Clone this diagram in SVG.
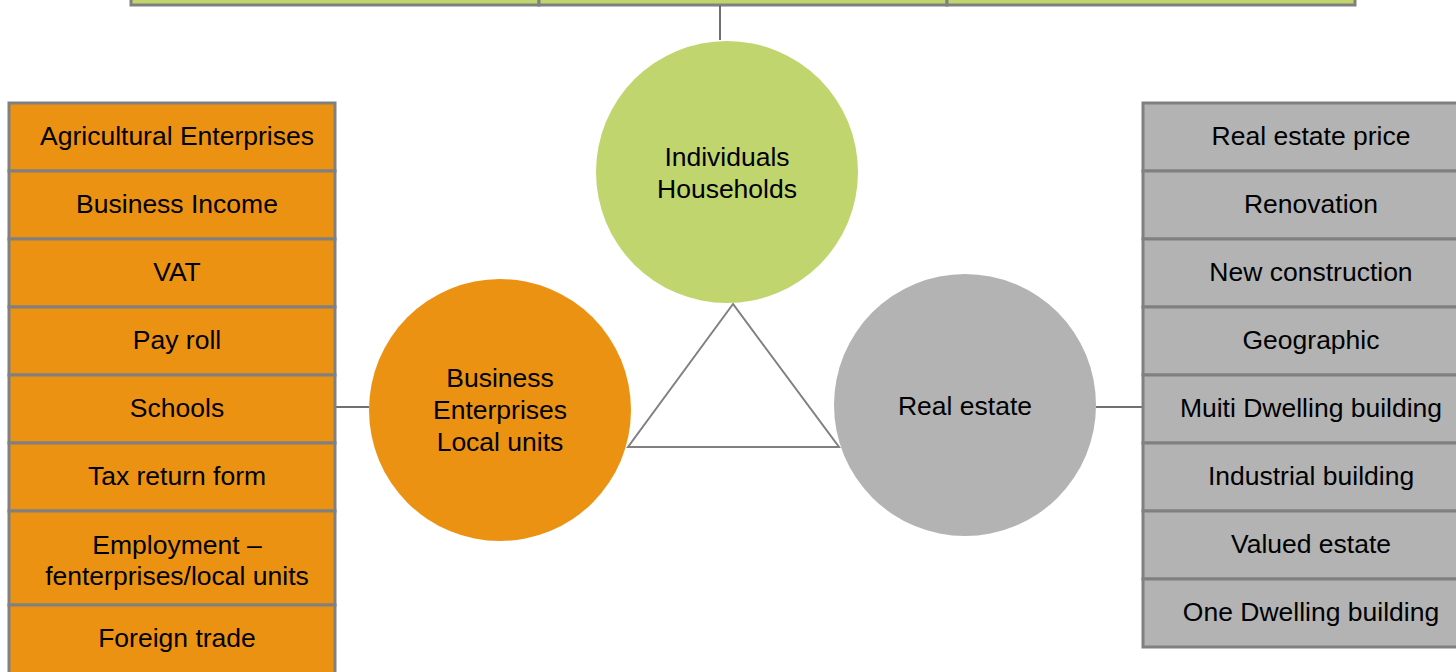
<svg xmlns="http://www.w3.org/2000/svg" width="1456" height="672" viewBox="0 0 1456 672">
<style>
text{font-family:"Liberation Sans",Arial,sans-serif;font-size:26.5px;fill:#000;text-anchor:middle;dominant-baseline:central}
.box{stroke:#808080;stroke-width:3}
.or{fill:#EC9212}
.gr{fill:#B3B3B3}
.gn{fill:#C0D56E}
.ln{stroke:#404040;stroke-width:1.5;fill:none}
</style>
<rect width="1456" height="672" fill="#fff"/>
<g id="top">
<rect class="box gn" x="131" y="-20" width="408" height="25"/>
<rect class="box gn" x="539" y="-20" width="408" height="25"/>
<rect class="box gn" x="947" y="-20" width="408" height="25"/>
</g>
<g id="connectors">
<line class="ln" x1="720" y1="6" x2="720" y2="40"/>
<line class="ln" x1="335" y1="407" x2="369" y2="407"/>
<line class="ln" x1="1096" y1="407" x2="1143" y2="407"/>
</g>
<g id="triangle">
<polygon points="733,304 628,447 839,447" fill="none" stroke="#808080" stroke-width="2"/>
</g>
<g id="individuals">
<circle class="gn" cx="727" cy="172" r="131"/>
<text x="727" y="157">Individuals</text>
<text x="727" y="189">Households</text>
</g>
<g id="business">
<circle class="or" cx="500" cy="410" r="131"/>
<text x="500" y="378">Business</text>
<text x="500" y="410">Enterprises</text>
<text x="500" y="442">Local units</text>
</g>
<g id="realestate">
<circle class="gr" cx="965" cy="405" r="131"/>
<text x="965" y="406">Real estate</text>
</g>
<g id="left-list">
<rect class="box or" x="9" y="103" width="326" height="68"/><text x="177" y="136">Agricultural Enterprises</text>
<rect class="box or" x="9" y="171" width="326" height="68"/><text x="177" y="204">Business Income</text>
<rect class="box or" x="9" y="239" width="326" height="68"/><text x="177" y="272">VAT</text>
<rect class="box or" x="9" y="307" width="326" height="68"/><text x="177" y="340">Pay roll</text>
<rect class="box or" x="9" y="375" width="326" height="68"/><text x="177" y="408">Schools</text>
<rect class="box or" x="9" y="443" width="326" height="68"/><text x="177" y="476">Tax return form</text>
<rect class="box or" x="9" y="511" width="326" height="94"/><text x="177" y="545">Employment –</text><text x="177" y="576">fenterprises/local units</text>
<rect class="box or" x="9" y="605" width="326" height="90"/><text x="177" y="638">Foreign trade</text>
</g>
<g id="right-list">
<rect class="box gr" x="1143" y="103" width="330" height="68"/><text x="1311" y="136">Real estate price</text>
<rect class="box gr" x="1143" y="171" width="330" height="68"/><text x="1311" y="204">Renovation</text>
<rect class="box gr" x="1143" y="239" width="330" height="68"/><text x="1311" y="272">New construction</text>
<rect class="box gr" x="1143" y="307" width="330" height="68"/><text x="1311" y="340">Geographic</text>
<rect class="box gr" x="1143" y="375" width="330" height="68"/><text x="1311" y="408">Muiti Dwelling building</text>
<rect class="box gr" x="1143" y="443" width="330" height="68"/><text x="1311" y="476">Industrial building</text>
<rect class="box gr" x="1143" y="511" width="330" height="68"/><text x="1311" y="544">Valued estate</text>
<rect class="box gr" x="1143" y="579" width="330" height="68"/><text x="1311" y="612">One Dwelling building</text>
</g>
</svg>
